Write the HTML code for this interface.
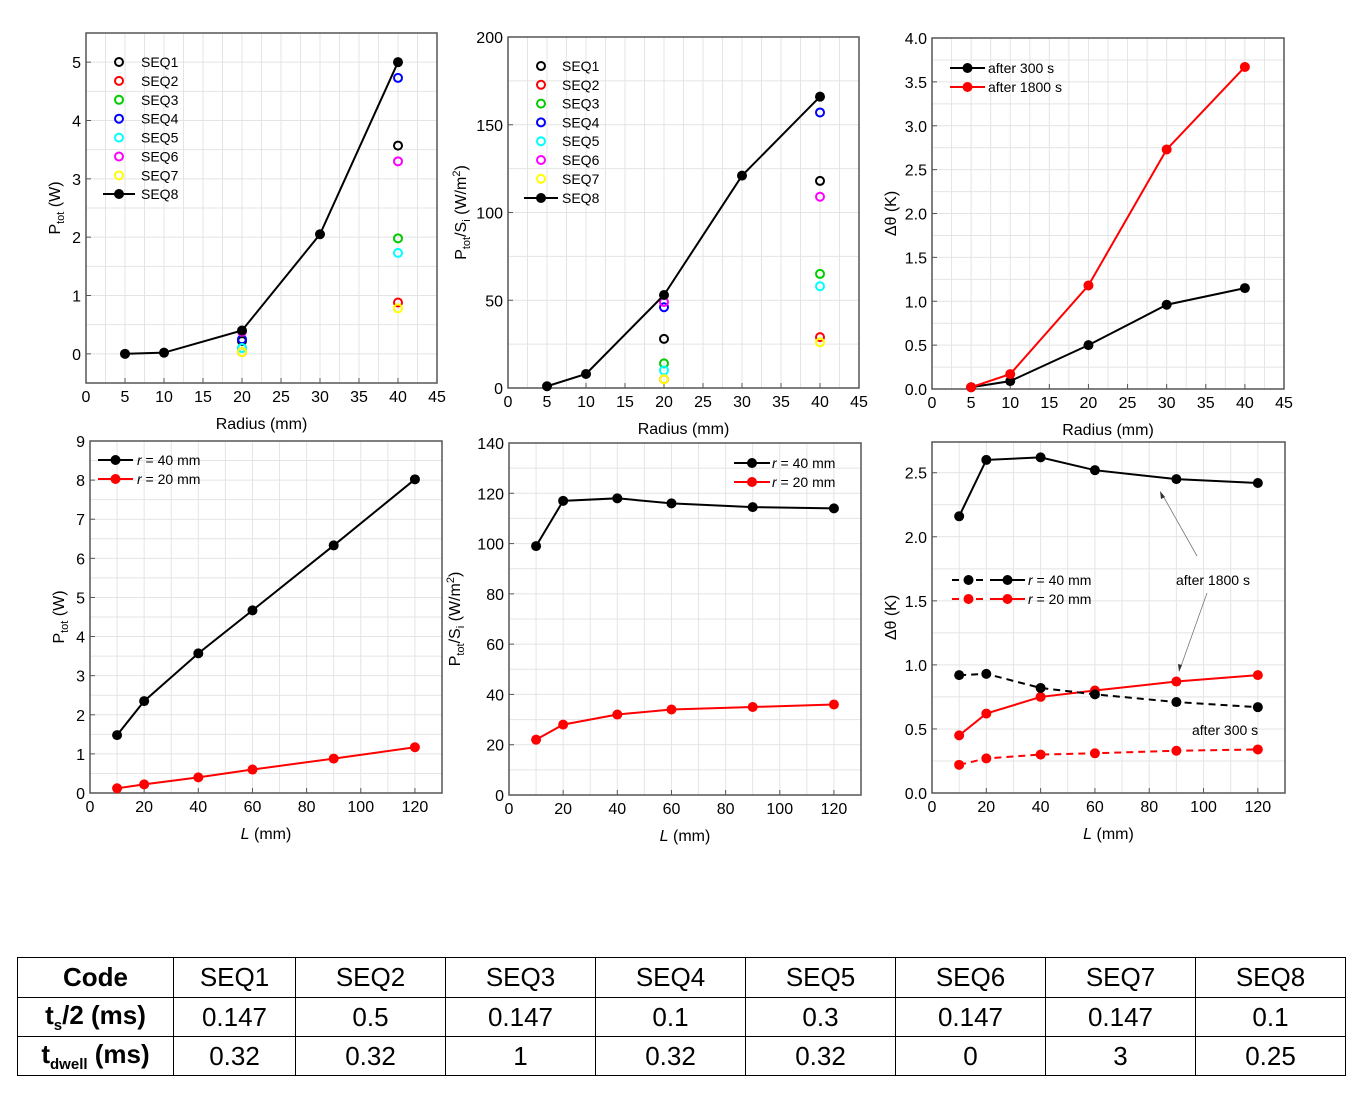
<!DOCTYPE html>
<html><head><meta charset="utf-8"><style>
body{margin:0;background:#fff;width:1365px;height:1095px;overflow:hidden;font-family:"Liberation Sans",sans-serif}
svg text{font-family:"Liberation Sans",sans-serif}
table{position:absolute;left:17px;top:957px;border-collapse:collapse;font-size:26px}
td{border:1.5px solid #000;text-align:center;padding:0;height:38px}
</style></head><body>
<svg id="c" width="1365" height="950" style="position:absolute;left:0;top:0"></svg>
<table>
<tr style="height:40px"><td style="width:155px;font-weight:bold">Code</td><td style="width:121px">SEQ1</td><td style="width:149px">SEQ2</td><td style="width:149px">SEQ3</td><td style="width:149px">SEQ4</td><td style="width:149px">SEQ5</td><td style="width:149px">SEQ6</td><td style="width:149px">SEQ7</td><td style="width:149px">SEQ8</td></tr>
<tr><td style="font-weight:bold">t<sub style="font-size:15px">s</sub>/2 (ms)</td><td>0.147</td><td>0.5</td><td>0.147</td><td>0.1</td><td>0.3</td><td>0.147</td><td>0.147</td><td>0.1</td></tr>
<tr><td style="font-weight:bold">t<sub style="font-size:15px">dwell</sub> (ms)</td><td>0.32</td><td>0.32</td><td>1</td><td>0.32</td><td>0.32</td><td>0</td><td>3</td><td>0.25</td></tr>
</table>
<script>
const radii=[5,10,20,30,40];
const scatterR=[20,40];
const seqColors=["#000","#f00","#0c0","#00f","#0ff","#f0f","#ff0"];
const seqNames=["SEQ1","SEQ2","SEQ3","SEQ4","SEQ5","SEQ6","SEQ7","SEQ8"];
const p1Seq8=[0,0.02,0.4,2.05,5.0];
const p1Scatter=[[0.22,3.57],[0.03,0.88],[0.1,1.98],[0.25,4.73],[0.1,1.73],[0.38,3.3],[0.03,0.78]];
const p2Seq8=[1,8,53,121,166];
const p2Scatter=[[28,118],[5,29],[14,65],[46,157],[10,58],[49,109],[5,26]];
const p3After300=[0.02,0.09,0.5,0.96,1.15];
const p3After1800=[0.02,0.17,1.18,2.73,3.67];
const lengths=[10,20,40,60,90,120];
const p4r40=[1.48,2.35,3.57,4.67,6.33,8.02];
const p4r20=[0.12,0.22,0.4,0.6,0.88,1.17];
const p5r40=[99,117,118,116,114.5,114];
const p5r20=[22,28,32,34,35,36];
const p6r40_1800=[2.16,2.6,2.62,2.52,2.45,2.42];
const p6r20_1800=[0.45,0.62,0.75,0.8,0.87,0.92];
const p6r40_300=[0.92,0.93,0.82,0.77,0.71,0.67];
const p6r20_300=[0.22,0.27,0.3,0.31,0.33,0.34];

const svg=document.getElementById('c');
const NS="http://www.w3.org/2000/svg";
function el(t,a,p){const e=document.createElementNS(NS,t);for(const k in a)e.setAttribute(k,a[k]);(p||svg).appendChild(e);return e;}
function txt(x,y,s,a,p){const e=el('text',Object.assign({x:x,y:y,'font-size':16,fill:'#000'},a||{}),p);e.innerHTML=s;return e;}

function panel(name,L,T,R,B,xmin,xmax,ymin,ymax,xt,yt,fmt,xtitle,ytitle,ytx){
  const g=el('g',{});
  
  
  const sx=v=>L+(v-xmin)/(xmax-xmin)*(R-L), sy=v=>B-(v-ymin)/(ymax-ymin)*(B-T);
  const xs=[],ys=[];
  for(let v=xt[0];v<=xt[1]+1e-9;v+=xt[2])xs.push(v);
  for(let v=yt[0];v<=yt[1]+1e-9;v+=yt[2])ys.push(v);
  for(let v=xt[0];v<=xmax+1e-9;v+=xt[2]/2){if(v>xmin)el('line',{x1:sx(v),x2:sx(v),y1:T,y2:B,stroke:'#e4e4e4','stroke-width':1},g);}
  for(let v=yt[0]-yt[2];v<=ymax+1e-9;v+=yt[2]/2){if(v>ymin&&v<ymax)el('line',{x1:L,x2:R,y1:sy(v),y2:sy(v),stroke:'#e4e4e4','stroke-width':1},g);}
  el('rect',{x:L,y:T,width:R-L,height:B-T,fill:'none',stroke:'#555','stroke-width':1.5},g);
  const xa=el('g',{},g);
  xs.forEach(v=>{el('line',{x1:sx(v),x2:sx(v),y1:B,y2:B-5,stroke:'#555'},xa);txt(sx(v),B+19,String(v),{'text-anchor':'middle'},xa);});
  const ya=el('g',{},g);
  ys.forEach(v=>{el('line',{x1:L,x2:L+5,y1:sy(v),y2:sy(v),stroke:'#555'},ya);txt(L-5,sy(v)+6,fmt(v),{'text-anchor':'end'},ya);});
  const xtl=txt((L+R)/2,B+46,xtitle,{'text-anchor':'middle'},g);
  const ytl=txt(0,0,ytitle,{'text-anchor':'middle',transform:`translate(${ytx},${(T+B)/2}) rotate(-90)`},g);
  return {g,sx,sy};
}
function series(p,xsA,ysA,color,dash,name){
  const g=el('g',{},p.g);
  
  
  el('polyline',{points:xsA.map((x,i)=>p.sx(x)+','+p.sy(ysA[i])).join(' '),fill:'none',stroke:color,'stroke-width':2,'stroke-dasharray':dash||'none'},g);
  xsA.forEach((x,i)=>{const c=el('circle',{cx:p.sx(x),cy:p.sy(ysA[i]),r:5,fill:color},g);});
}
function scatter(p,xsA,vals,color,name){
  const g=el('g',{},p.g);
  
  
  xsA.forEach((x,i)=>{const c=el('circle',{cx:p.sx(x),cy:p.sy(vals[i]),r:4,fill:'none',stroke:color,'stroke-width':2},g);});
}
function legLine(p,x1,x2,y,color,dash,label,lx){
  const g=el('g',{},p.g);
  
  
  el('line',{x1:x1,x2:x2,y1:y,y2:y,stroke:color,'stroke-width':2,'stroke-dasharray':dash||'none'},g);
  el('circle',{cx:(x1+x2)/2,cy:y,r:5,fill:color},g);
  if(label)txt(lx,y+5,label,{'font-size':14},g);
}
function legCirc(p,x,y,color,label,lx){
  const g=el('g',{},p.g);
  
  
  el('circle',{cx:x,cy:y,r:4,fill:'none',stroke:color,'stroke-width':2},g);
  txt(lx,y+5,label,{'font-size':14},g);
}
const i0=v=>String(Math.round(v)), f1=v=>v.toFixed(1);
const sub='<tspan font-size="11" dy="4">tot</tspan><tspan dy="-4">';

// Panel 1
let p=panel('chart-ptot-radius',86,33,437,383,0,45,-0.5,5.5,[0,45,5],[0,5,1],i0,'Radius (mm)','P'+sub+' (W)</tspan>',60);
seqColors.forEach((c,k)=>scatter(p,scatterR,p1Scatter[k],c,'seq'+(k+1)));
series(p,radii,p1Seq8,'#000',null,'seq8');
seqColors.forEach((c,k)=>legCirc(p,119,62+k*18.9,c,seqNames[k],141));
legLine(p,103,135,194,'#000',null,'SEQ8',141);

// Panel 2
p=panel('chart-ptot-si-radius',508,37,859,388,0,45,0,200,[0,45,5],[0,200,50],i0,'Radius (mm)','P'+sub+'/S<tspan font-size="11" dy="4">i</tspan><tspan dy="-4"> (W/m</tspan><tspan font-size="11" dy="-6">2</tspan><tspan dy="6">)</tspan></tspan>',466);
seqColors.forEach((c,k)=>scatter(p,scatterR,p2Scatter[k],c,'seq'+(k+1)));
series(p,radii,p2Seq8,'#000',null,'seq8');
seqColors.forEach((c,k)=>legCirc(p,541,66+k*18.8,c,seqNames[k],562));
legLine(p,524,558,198,'#000',null,'SEQ8',562);

// Panel 3
p=panel('chart-dtheta-radius',932,38,1284,389,0,45,0,4,[0,45,5],[0,4,0.5],f1,'Radius (mm)','Δθ (K)',896);
series(p,radii,p3After300,'#000',null,'after-300s');
series(p,radii,p3After1800,'#f00',null,'after-1800s');
legLine(p,950,985,68,'#000',null,'after 300 s',988);
legLine(p,950,985,87,'#f00',null,'after 1800 s',988);

// Panel 4
p=panel('chart-ptot-length',90,441,442,793,0,130,0,9,[0,120,20],[0,9,1],i0,'<tspan font-style="italic">L</tspan> (mm)','P'+sub+' (W)</tspan>',64);
series(p,lengths,p4r40,'#000',null,'r40');
series(p,lengths,p4r20,'#f00',null,'r20');
legLine(p,98,133,460,'#000',null,'<tspan font-style="italic">r</tspan> = 40 mm',137);
legLine(p,98,133,479,'#f00',null,'<tspan font-style="italic">r</tspan> = 20 mm',137);

// Panel 5
p=panel('chart-ptot-si-length',509,443,861,795,0,130,0,140,[0,120,20],[0,140,20],i0,'<tspan font-style="italic">L</tspan> (mm)','P'+sub+'/S<tspan font-size="11" dy="4">i</tspan><tspan dy="-4"> (W/m</tspan><tspan font-size="11" dy="-6">2</tspan><tspan dy="6">)</tspan></tspan>',460);
series(p,lengths,p5r40,'#000',null,'r40');
series(p,lengths,p5r20,'#f00',null,'r20');
legLine(p,734,770,463,'#000',null,'<tspan font-style="italic">r</tspan> = 40 mm',772);
legLine(p,734,770,482,'#f00',null,'<tspan font-style="italic">r</tspan> = 20 mm',772);

// Panel 6
p=panel('chart-dtheta-length',932,442,1285,793,0,130,0,2.74,[0,120,20],[0,2.5,0.5],f1,'<tspan font-style="italic">L</tspan> (mm)','Δθ (K)',896);
series(p,lengths,p6r40_1800,'#000',null,'r40-1800s');
series(p,lengths,p6r20_1800,'#f00',null,'r20-1800s');
series(p,lengths,p6r40_300,'#000','7,5','r40-300s');
series(p,lengths,p6r20_300,'#f00','7,5','r20-300s');
legLine(p,952,985,580,'#000','7,5','',0);
legLine(p,990,1025,580,'#000',null,'<tspan font-style="italic">r</tspan> = 40 mm',1028);
legLine(p,952,985,599,'#f00','7,5','',0);
legLine(p,990,1025,599,'#f00',null,'<tspan font-style="italic">r</tspan> = 20 mm',1028);
let a=txt(1176,585,'after 1800 s',{'font-size':14},p.g);
a=txt(1192,735,'after 300 s',{'font-size':14},p.g);
el('line',{x1:1197,y1:556,x2:1162,y2:494,stroke:'#777','stroke-width':0.8},p.g);
el('polygon',{points:'1160,491 1161,499 1165,497',fill:'#333'},p.g);
el('line',{x1:1207,y1:593,x2:1180,y2:669,stroke:'#777','stroke-width':0.8},p.g);
el('polygon',{points:'1179,672 1178,664 1182,665',fill:'#333'},p.g);
</script>
</body></html>
